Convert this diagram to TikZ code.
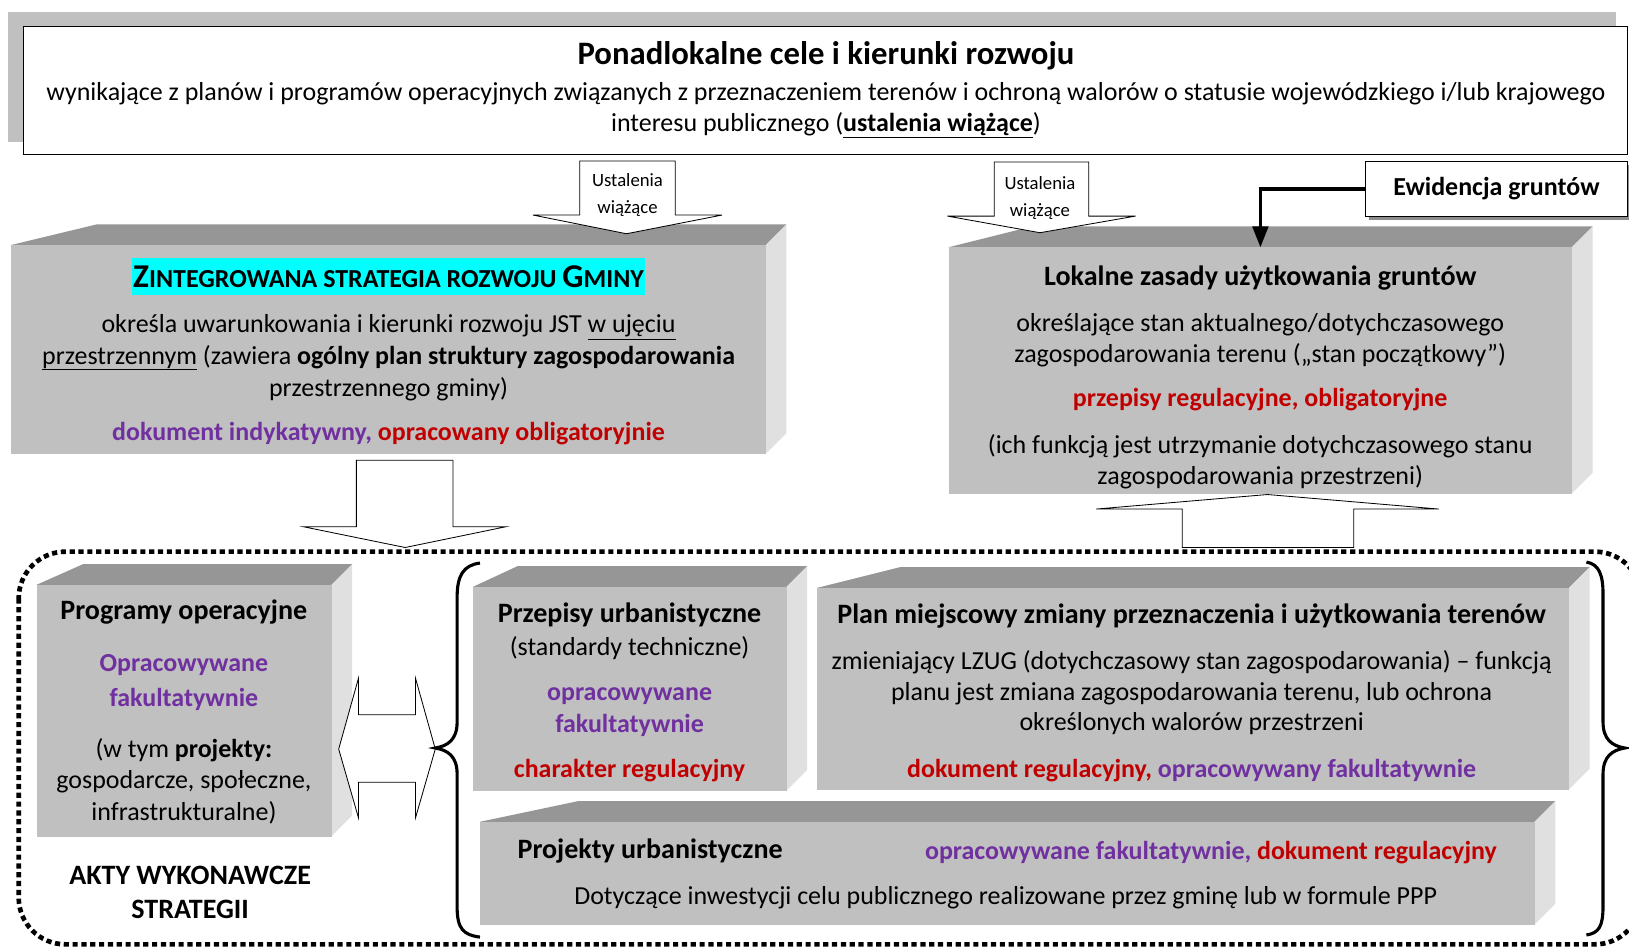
\documentclass[tikz,border=0pt]{standalone}
\usepackage{fontspec}
\setmainfont{Carlito}
\usetikzlibrary{arrows.meta,shadows}
\definecolor{frontg}{RGB}{192,192,192}
\definecolor{topg}{RGB}{150,150,150}
\definecolor{sideg}{RGB}{224,224,224}
\definecolor{purp}{RGB}{112,48,160}
\definecolor{redd}{RGB}{192,0,0}
\definecolor{shadowg}{RGB}{192,192,192}
\definecolor{hlcyan}{RGB}{0,255,255}
\newcommand\fsz[1]{\fontsize{#1}{#1}\selectfont}
\newcommand\cubebox[6]{%
  \fill[topg] (#2,#3) -- (#2+#6,#3-20) -- (#4+20,#3-20) -- (#4,#3) -- cycle;
  \fill[sideg] (#4,#3) -- (#4+20,#3-20) -- (#4+20,#5-20) -- (#4,#5) -- cycle;
  \node[frontface, anchor=north west, minimum width={#4-#2}, minimum height={#5-#3}] (#1) at (#2,#3) {};
}
\tikzset{
  txt/.style={inner sep=0pt, anchor=mid, yshift=-6pt, font=\fsz{25}},
  hd/.style={txt, font=\fsz{27}\bfseries},
  bt/.style={txt, font=\fsz{25}\bfseries},
  sm/.style={txt, font=\fsz{18}},
  blockarrow/.style={draw=black, line width=0.8pt, fill=white},
  frontface/.style={fill=frontg, draw=none, inner sep=0pt},
}
\begin{document}
\begin{tikzpicture}[x=1pt,y=-1pt]
\useasboundingbox (0,0) rectangle (1568,912);
\fill[white] (0,0) rectangle (1568,912);

% ---------- top box
\fill[shadowg] (8,12) rectangle (1555,137);
\node[draw, fill=white, line width=1pt, anchor=north west, minimum width=1544, minimum height=123, inner sep=0pt] (topbox) at (22,25) {};
\node[txt, font=\fsz{31.5}\bfseries] (t1) at (795,54) {Ponadlokalne cele i kierunki rozwoju};
\node[txt] (t2) at (795,88) {wynikające z planów i programów operacyjnych związanych z przeznaczeniem terenów i ochroną walorów o statusie wojewódzkiego i/lub krajowego};
\node[txt] (t3) at (795,118) {interesu publicznego (\underline{\textbf{ustalenia wiążące}})};

% ---------- 3D boxes
\cubebox{zsr}{10}{236}{737}{437}{83}
\cubebox{lz}{913}{238}{1513}{475}{80}
\cubebox{po}{35}{563}{319}{805}{45}
\cubebox{pu}{455}{565}{757}{761}{43}
\cubebox{pm}{786}{566}{1510}{760}{80}
\cubebox{pj}{462}{791}{1477}{890}{95}

% ---------- Ustalenia arrows
\draw[blockarrow] (558,155) -- (650,155) -- (650,207) -- (695,207) -- (603,225) -- (513,207) -- (558,207) -- cycle;
\node[sm] (u1a) at (604,171) {Ustalenia};
\node[sm] (u1b) at (604,197) {wiążące};
\draw[blockarrow] (957,156) -- (1048,156) -- (1048,208) -- (1093,208) -- (1001,224) -- (912,208) -- (957,208) -- cycle;
\node[sm] (u2a) at (1001,174) {Ustalenia};
\node[sm] (u2b) at (1001,200) {wiążące};

% ---------- Ewidencja
\node[draw, fill=white, line width=0.8pt, anchor=north west, minimum width=252, minimum height=53, inner sep=0pt,
      font=\fsz{25}\bfseries, drop shadow={shadow xshift=3pt, shadow yshift=-3pt, fill=black!45, opacity=1}] (ewid) at (1314,155) {Ewidencja gruntów};
\draw[line width=3pt, -{Triangle[length=20pt,width=15pt]}] (ewid.west) -| (lz.north);

% ---------- Zintegrowana texts
\node[fill=hlcyan, inner sep=0pt, minimum width=493, minimum height=36] (zsrt) at (374,266)
  {\bfseries{\fsz{32}Z}{\fsz{25}INTEGROWANA STRATEGIA ROZWOJU }{\fsz{32}G}{\fsz{25}MINY}};
\node[txt] (z1) at (374,312) {określa uwarunkowania i kierunki rozwoju JST \underline{w ujęciu}};
\node[txt] (z2) at (374,342) {\underline{przestrzennym} (zawiera \textbf{ogólny plan struktury zagospodarowania}};
\node[txt] (z3) at (374,373) {przestrzennego gminy)};
\node[bt] (z4) at (374,416) {{\color{purp}dokument indykatywny,} {\color{redd}opracowany obligatoryjnie}};

% ---------- Lokalne texts
\node[hd] (l0) at (1213,266) {Lokalne zasady użytkowania gruntów};
\node[txt] (l1) at (1213,311) {określające stan aktualnego/dotychczasowego};
\node[txt] (l2) at (1213,341) {zagospodarowania terenu („stan początkowy”)};
\node[bt, text=redd] (l3) at (1213,383) {przepisy regulacyjne, obligatoryjne};
\node[txt] (l4) at (1213,428) {(ich funkcją jest utrzymanie dotychczasowego stanu};
\node[txt] (l5) at (1213,458) {zagospodarowania przestrzeni)};

% ---------- block arrows between rows
\draw[blockarrow] (343,443) -- (436,443) -- (436,507) -- (487,507) -- (390,527) -- (292,507) -- (343,507) -- cycle;
\draw[blockarrow] (1138,527) -- (1303,527) -- (1303,490) -- (1385,490) -- (1220,476) -- (1055,490) -- (1138,490) -- cycle;

% ---------- dotted frame
\draw[line width=4.5pt, dash pattern=on 5pt off 3.5pt, rounded corners=45pt] (18,531) rectangle (1580,909);

% ---------- Programy texts
\node[hd] (p0) at (177,588) {Programy operacyjne};
\node[bt, text=purp] (p1) at (177,638) {Opracowywane};
\node[bt, text=purp] (p2) at (177,672) {fakultatywnie};
\node[txt] (p3) at (177,721) {(w tym \textbf{projekty:}};
\node[txt] (p4) at (177,751) {gospodarcze, społeczne,};
\node[txt] (p5) at (177,781) {infrastrukturalne)};
\node[hd] (a1) at (183,843) {AKTY WYKONAWCZE};
\node[hd] (a2) at (183,876) {STRATEGII};

% ---------- double arrow
\draw[blockarrow] (326,721) -- (345,653) -- (345,688) -- (400,688) -- (400,653) -- (419,721) -- (400,787) -- (400,753) -- (345,753) -- (345,787) -- cycle;

% ---------- braces
\draw[line width=3pt] (462,542) .. controls (446,544) and (440,554) .. (440,575) -- (440,695) .. controls (440,712) and (431,718) .. (419,720) .. controls (431,722) and (440,728) .. (440,745) -- (440,873) .. controls (440,894) and (446,900) .. (462,902);
\draw[line width=3pt] (1527,541) .. controls (1539,543) and (1543,553) .. (1543,572) -- (1543,695) .. controls (1543,712) and (1552,718) .. (1564,720) .. controls (1552,722) and (1543,728) .. (1543,745) -- (1543,872) .. controls (1543,892) and (1539,898) .. (1527,900);

% ---------- Przepisy texts
\node[hd] (r0) at (606,591) {Przepisy urbanistyczne};
\node[txt] (r1) at (606,623) {(standardy techniczne)};
\node[bt, text=purp] (r2) at (606,666) {opracowywane};
\node[bt, text=purp] (r3) at (606,697) {fakultatywnie};
\node[bt, text=redd] (r4) at (606,740) {charakter regulacyjny};

% ---------- Plan texts
\node[hd] (m0) at (1147,592) {Plan miejscowy zmiany przeznaczenia i użytkowania terenów};
\node[txt] (m1) at (1147,636) {zmieniający LZUG (dotychczasowy stan zagospodarowania) – funkcją};
\node[txt] (m2) at (1147,666) {planu jest zmiana zagospodarowania terenu, lub ochrona};
\node[txt] (m3) at (1147,695) {określonych walorów przestrzeni};
\node[bt] (m4) at (1147,740) {{\color{redd}dokument regulacyjny,} {\color{purp}opracowywany fakultatywnie}};

% ---------- Projekty texts
\node[hd, anchor=mid west] (j0) at (498,818) {Projekty urbanistyczne};
\node[bt, anchor=mid east] (j1) at (1441,819) {{\color{purp}opracowywane fakultatywnie,} {\color{redd}dokument regulacyjny}};
\node[txt] (j2) at (968,862) {Dotyczące inwestycji celu publicznego realizowane przez gminę lub w formule PPP};
\end{tikzpicture}
\end{document}
